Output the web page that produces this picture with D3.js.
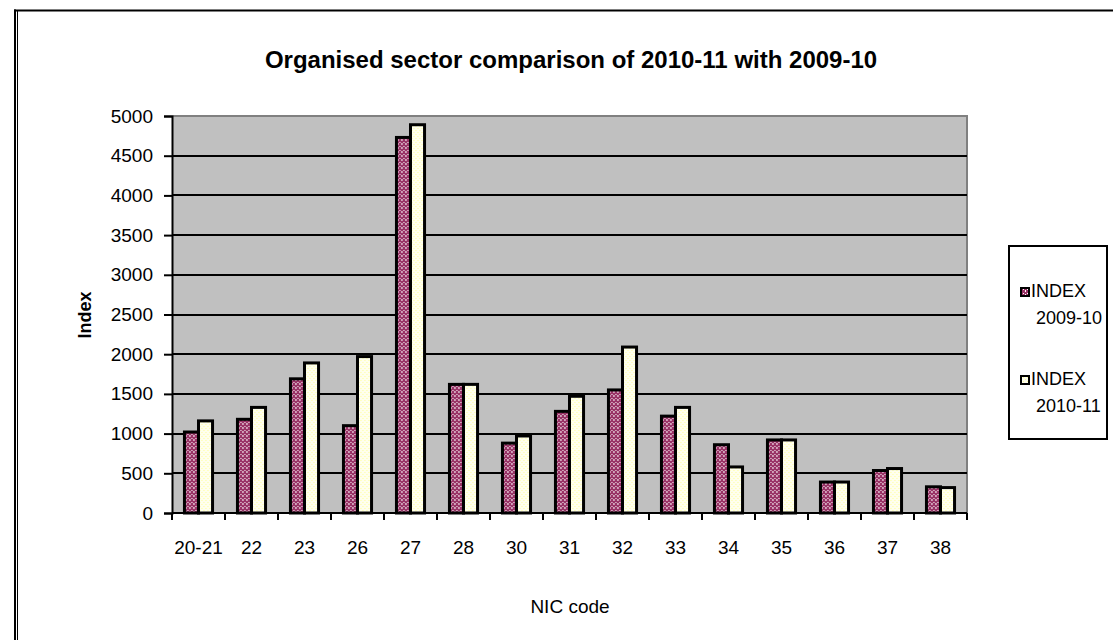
<!DOCTYPE html>
<html>
<head>
<meta charset="utf-8">
<script src="https://cdn.jsdelivr.net/npm/d3@7"></script>
<style>
  html, body { margin: 0; padding: 0; background: #fff; }
  svg { display: block; }
  text { font-family: "Liberation Sans", Arial, sans-serif; fill: #000; }
</style>
</head>
<body>
<svg id="chart" width="1113" height="640"></svg>
<script>
const categories = ["20-21","22","23","26","27","28","30","31","32","33","34","35","36","37","38"];
const seriesNames = ["INDEX 2009-10", "INDEX 2010-11"];
const index2009_10 = [1020, 1180, 1690, 1100, 4730, 1620, 880, 1280, 1550, 1220, 860, 920, 390, 535, 330];
const index2010_11 = [1160, 1330, 1890, 1970, 4890, 1620, 970, 1470, 2090, 1330, 580, 920, 390, 560, 320];
const yTicks = [0, 500, 1000, 1500, 2000, 2500, 3000, 3500, 4000, 4500, 5000];
const legendLines = [["INDEX", "2009-10"], ["INDEX", "2010-11"]];

const svg = d3.select("#chart");
const L = 172, R = 967, T = 116, B = 513;

// patterns
const defs = svg.append("defs");
const p1 = defs.append("pattern").attr("id", "pat0").attr("width", 4).attr("height", 4)
  .attr("patternUnits", "userSpaceOnUse");
p1.append("rect").attr("width", 4).attr("height", 4).attr("fill", "#993366");
[[1,0],[3,2],[1,3]].forEach(([a,b]) =>
  p1.append("rect").attr("x", a).attr("y", b).attr("width", 1).attr("height", 1).attr("fill", "#ffffff"));
const p2 = defs.append("pattern").attr("id", "pat1").attr("width", 4).attr("height", 4)
  .attr("patternUnits", "userSpaceOnUse");
p2.append("rect").attr("width", 4).attr("height", 4).attr("fill", "#FFFFEE");
[[1,0],[3,2]].forEach(([a,b]) =>
  p2.append("rect").attr("x", a).attr("y", b).attr("width", 1).attr("height", 1).attr("fill", "#FFFF99"));
const fills = ["url(#pat0)", "url(#pat1)"];

// outer frame
svg.append("line").attr("x1", 14).attr("x2", 1113).attr("y1", 10.5).attr("y2", 10.5)
  .attr("stroke", "#000").attr("stroke-width", 2);
svg.append("line").attr("x1", 15).attr("x2", 15).attr("y1", 9.5).attr("y2", 640)
  .attr("stroke", "#000").attr("stroke-width", 2);
svg.append("line").attr("x1", 17.5).attr("x2", 17.5).attr("y1", 11).attr("y2", 640)
  .attr("stroke", "#000").attr("stroke-width", 1);

// scales
const x0 = d3.scaleBand().domain(categories).range([L, R]).paddingInner(0.47).paddingOuter(0.235);
const x1 = d3.scaleBand().domain([0, 1]).range([0, x0.bandwidth()]);
const y = d3.scaleLinear().domain([0, 5000]).range([B, T]);

// plot background
svg.append("rect").attr("x", L).attr("y", T).attr("width", R - L).attr("height", B - T).attr("fill", "#C0C0C0");
svg.append("path").attr("d", `M${L},${T} H${R} V${B}`).attr("fill", "none")
  .attr("stroke", "#808080").attr("stroke-width", 2);

// gridlines
svg.append("g").selectAll("line").data(yTicks.filter(v => v > 0 && v < 5000)).join("line")
  .attr("x1", L).attr("x2", R).attr("y1", d => Math.round(y(d))).attr("y2", d => Math.round(y(d)))
  .attr("stroke", "#000").attr("stroke-width", 2);

// bars
const data = categories.map((c, i) => ({ c, vals: [index2009_10[i], index2010_11[i]] }));
const g = svg.append("g").selectAll("g").data(data).join("g")
  .attr("transform", d => `translate(${x0(d.c)},0)`);
g.selectAll("rect").data(d => d.vals.map((v, k) => ({ v, k }))).join("rect")
  .attr("x", d => x1(d.k))
  .attr("width", x1.bandwidth())
  .attr("y", d => y(d.v))
  .attr("height", d => B - y(d.v))
  .attr("fill", d => fills[d.k])
  .attr("stroke", "#000").attr("stroke-width", 3);

// y axis
const yAxis = svg.append("g").attr("transform", `translate(${L},0)`)
  .call(d3.axisLeft(y).tickValues(yTicks).tickSize(8).tickPadding(11).tickFormat(d3.format("d")));
yAxis.select(".domain").attr("stroke", "#000").attr("stroke-width", 2);
yAxis.selectAll(".tick line").attr("stroke", "#000").attr("stroke-width", 2);
yAxis.selectAll(".tick text").attr("font-size", 19).attr("font-family", "Liberation Sans, Arial, sans-serif");

// x axis
const step = x0.step();
const bounds = d3.range(categories.length + 1).map(i => L + i * step);
svg.append("line").attr("x1", L).attr("x2", R).attr("y1", B).attr("y2", B).attr("stroke", "#000").attr("stroke-width", 2);
svg.append("g").selectAll("line").data(bounds).join("line")
  .attr("x1", d => d).attr("x2", d => d).attr("y1", B).attr("y2", B + 7)
  .attr("stroke", "#000").attr("stroke-width", 2);
const xAxis = svg.append("g").attr("transform", `translate(0,${B})`)
  .call(d3.axisBottom(x0).tickSize(0).tickPadding(28));
xAxis.select(".domain").remove();
xAxis.selectAll(".tick text").attr("font-size", 19).attr("font-family", "Liberation Sans, Arial, sans-serif");

// titles
svg.append("text").attr("x", 571).attr("y", 68).attr("text-anchor", "middle")
  .attr("font-size", 24).attr("font-weight", "bold")
  .text("Organised sector comparison of 2010-11 with 2009-10");
svg.append("text").attr("transform", "translate(91,315) rotate(-90)").attr("text-anchor", "middle")
  .attr("font-size", 18).attr("font-weight", "bold").text("Index");
svg.append("text").attr("x", 570).attr("y", 613).attr("text-anchor", "middle")
  .attr("font-size", 19).text("NIC code");

// legend
svg.append("rect").attr("x", 1009).attr("y", 246).attr("width", 98).attr("height", 193)
  .attr("fill", "#fff").attr("stroke", "#000").attr("stroke-width", 2);
const lg = svg.append("g").selectAll("g").data(seriesNames).join("g")
  .attr("transform", (d, i) => `translate(1020,${287 + i * 88})`);
lg.append("rect").attr("x", 1).attr("y", 1).attr("width", 8).attr("height", 8)
  .attr("fill", (d, i) => fills[i]).attr("stroke", "#000").attr("stroke-width", 2);
lg.append("text").attr("x", 11).attr("y", 10).attr("font-size", 18).text((d, i) => legendLines[i][0]);
lg.append("text").attr("x", 16).attr("y", 37).attr("font-size", 18).text((d, i) => legendLines[i][1]);
</script>
</body>
</html>
